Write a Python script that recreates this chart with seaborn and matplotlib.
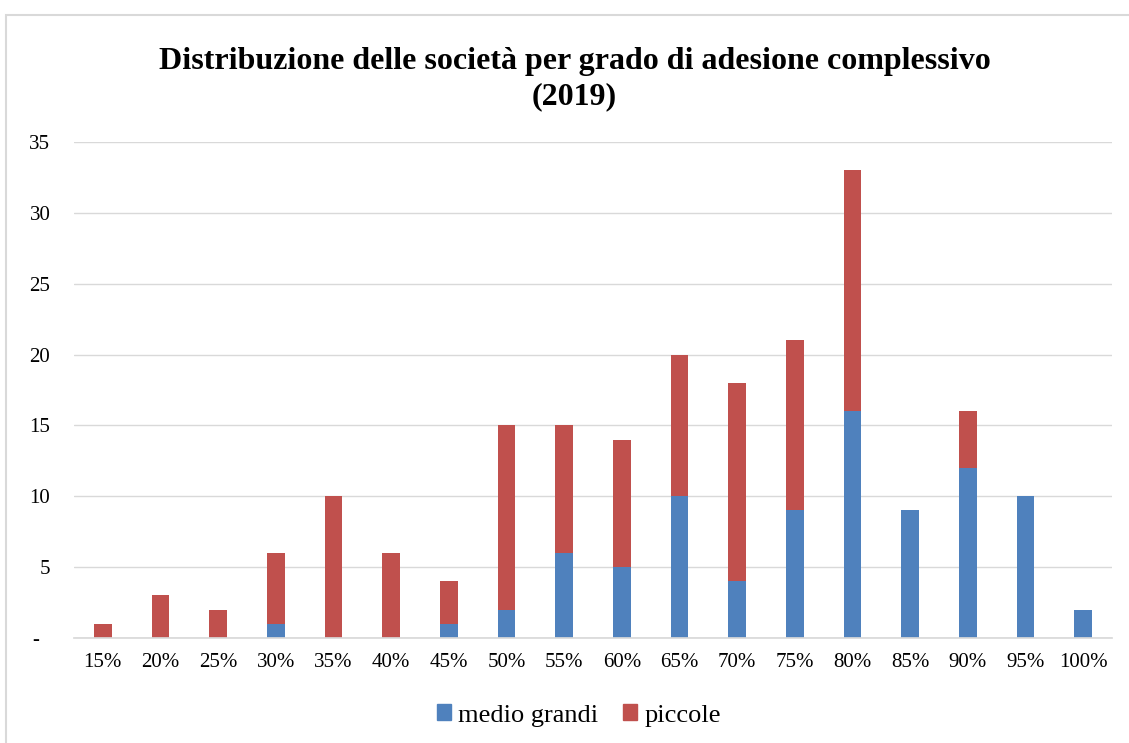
import pandas as pd
import matplotlib
matplotlib.use('Agg')
import matplotlib.pyplot as plt
from matplotlib.patches import Rectangle, Patch
import seaborn as sns

# --- Data ---
categories = ['15%', '20%', '25%', '30%', '35%', '40%', '45%', '50%', '55%',
              '60%', '65%', '70%', '75%', '80%', '85%', '90%', '95%', '100%']
medio_grandi = [0, 0, 0, 1, 0, 0, 1, 2, 6, 5, 10, 4, 9, 16, 9, 12, 10, 2]
piccole = [1, 3, 2, 5, 10, 6, 3, 13, 9, 9, 10, 14, 12, 17, 0, 4, 0, 0]
y_ticks = [0, 5, 10, 15, 20, 25, 30, 35]
y_labels = ['-  ', '5', '10', '15', '20', '25', '30', '35']

BLUE = '#4F81BD'
RED = '#C0504D'


def main():
    df = pd.DataFrame({'grado': categories,
                       'medio grandi': medio_grandi,
                       'piccole': piccole})

    sns.set_theme(style='white')
    plt.rcParams['font.family'] = ['Liberation Serif', 'DejaVu Serif']
    plt.rcParams['text.color'] = 'black'

    fig = plt.figure(figsize=(11.29, 7.43), dpi=100)
    ax = fig.add_axes([0.0655, 0.1413, 0.9195, 0.6676])

    # stacked bars: blue at the base, red on top
    sns.barplot(data=df, x='grado', y='medio grandi', color=BLUE,
                width=0.31, ax=ax, saturation=1, linewidth=0)
    sns.barplot(data=df, x='grado', y='piccole', color=RED,
                width=0.31, ax=ax, saturation=1, linewidth=0,
                bottom=df['medio grandi'])

    ax.set_ylim(0, 35)
    ax.set_yticks(y_ticks)
    ax.set_yticklabels(y_labels)
    ax.set_xlim(-0.5, len(categories) - 0.5)
    ax.set_xlabel('')
    ax.set_ylabel('')
    ax.grid(axis='y', color='#D9D9D9', linewidth=1)
    ax.set_axisbelow(True)
    for s in ['top', 'right', 'left']:
        ax.spines[s].set_visible(False)
    ax.spines['bottom'].set_color('#D9D9D9')
    ax.tick_params(axis='both', length=0, labelsize=15, colors='black')
    ax.tick_params(axis='x', pad=11)
    ax.tick_params(axis='y', pad=17)

    fig.suptitle('Distribuzione delle società per grado di adesione complessivo\n(2019)',
                 x=0.509, y=0.937, fontsize=23, fontweight='bold',
                 linespacing=1.27, color='black')

    handles = [Patch(color=BLUE, label='medio grandi'),
               Patch(color=RED, label='piccole')]
    fig.legend(handles=handles, loc='center', bbox_to_anchor=(0.5125, 0.037),
               ncol=2, frameon=False, fontsize=19, handlelength=0.53,
               handleheight=0.53, handletextpad=0.27, columnspacing=0.95,
               labelcolor='black')

    fig.patches.append(Rectangle((0.0053, -0.01), 1.0, 0.99,
                                 transform=fig.transFigure, fill=False,
                                 edgecolor='#D9D9D9', linewidth=1.5))

    fig.savefig('out.png', dpi=100)
    plt.close(fig)


if __name__ == '__main__':
    main()
